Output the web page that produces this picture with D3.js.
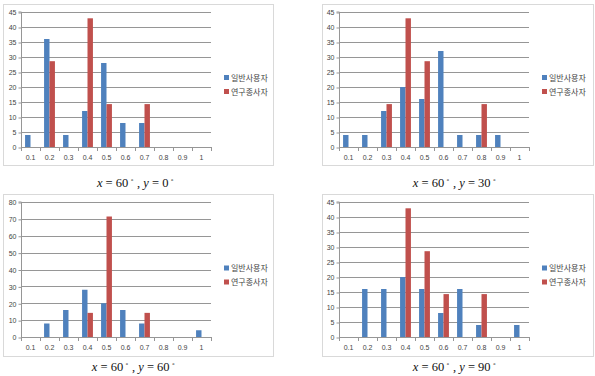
<!DOCTYPE html>
<html><head><meta charset="utf-8">
<script src="https://cdn.jsdelivr.net/npm/d3@7"></script>
<style>body{margin:0;background:#fff}svg{display:block}</style>
</head><body>
<svg id="c" width="595" height="376"></svg>
<script>
const categories = ["0.1","0.2","0.3","0.4","0.5","0.6","0.7","0.8","0.9","1"];
const seriesNames = ["일반사용자","연구종사자"];
const p1Blue = [4,36,4,12,28,8,8,0,0,0];
const p1Red  = [0,28.6,0,42.9,14.3,0,14.3,0,0,0];
const p2Blue = [4,4,12,20,16,32,4,4,4,0];
const p2Red  = [0,0,14.3,42.9,28.6,0,0,14.3,0,0];
const p3Blue = [0,8,16,28,20,16,8,0,0,4];
const p3Red  = [0,0,0,14.3,71.4,0,14.3,0,0,0];
const p4Blue = [0,16,16,20,16,8,16,4,0,4];
const p4Red  = [0,0,0,42.9,28.6,14.3,0,14.3,0,0];
const yMax = [45,45,80,45];
const yStep = [5,5,10,5];
const captionY = ["0","30","60","90"];
const captionX = "60";

const colors = ["#4F81BD","#C0504D"];
const svg = d3.select("#c");

const panels = [
  {blue:p1Blue, red:p1Red, frame:[3,4,273,165],  plot:[21,12,211,147], cap:[136,187]},
  {blue:p2Blue, red:p2Red, frame:[322,4,593,165],plot:[339,12,529,147], cap:[455,187]},
  {blue:p3Blue, red:p3Red, frame:[3,194,273,356],plot:[21,202,211,337], cap:[134,371]},
  {blue:p4Blue, red:p4Red, frame:[322,194,593,356],plot:[339,202,529,337], cap:[455,371]}
];

panels.forEach((p,i)=>{
  const g = svg.append("g");
  const [fx0,fy0,fx1,fy1] = p.frame;
  g.append("rect").attr("x",fx0+0.5).attr("y",fy0+0.5).attr("width",fx1-fx0).attr("height",fy1-fy0)
    .attr("fill","#fff").attr("stroke","#d9d9d9").attr("stroke-width",1);
  const [x0,y0,x1,y1] = p.plot;
  const x = d3.scaleBand().domain(categories).range([x0,x1]).paddingInner(0).paddingOuter(0);
  const y = d3.scaleLinear().domain([0,yMax[i]]).range([y1,y0]);
  const ticks = d3.range(0,yMax[i]+0.001,yStep[i]);
  g.selectAll(".grid").data(ticks.filter(t=>t>0)).join("line")
    .attr("x1",x0).attr("x2",x1).attr("y1",d=>Math.round(y(d))+0.5).attr("y2",d=>Math.round(y(d))+0.5)
    .attr("stroke","#969696").attr("stroke-width",1);
  const ya = d3.axisLeft(y).tickValues(ticks).tickSize(3).tickPadding(2).tickFormat(d3.format("d"));
  const yg = g.append("g").attr("transform",`translate(${x0+0.5},0.5)`).call(ya);
  yg.select(".domain").attr("stroke","#969696").attr("d",`M-3,${y(yMax[i])-0.5}H0V${y1-0.5}`);
  yg.selectAll(".tick line").attr("stroke","#969696");
  yg.selectAll("text").attr("font-family","Liberation Sans, Arial, sans-serif").attr("font-size","7px").attr("fill","#444");
  const bw = x.bandwidth();
  const barW = bw/3.5;
  const data = categories.map((c,k)=>({c, v:[p.blue[k],p.red[k]]}));
  colors.forEach((col,s)=>{
    g.selectAll(".bar"+s).data(data).join("rect")
      .attr("x",d=>x(d.c)+bw/2-barW+s*barW)
      .attr("width",barW)
      .attr("y",d=>y(d.v[s]))
      .attr("height",d=>y1-y(d.v[s]))
      .attr("fill",col);
  });
  g.append("line").attr("x1",x0).attr("x2",x1).attr("y1",y1+0.5).attr("y2",y1+0.5).attr("stroke","#969696");
  g.selectAll(".xt").data(categories.concat(["end"])).join("line")
    .attr("x1",(d,k)=>Math.round(x0+k*bw)+0.5).attr("x2",(d,k)=>Math.round(x0+k*bw)+0.5)
    .attr("y1",y1).attr("y2",y1+4).attr("stroke","#969696");
  g.selectAll(".xl").data(categories).join("text")
    .attr("x",d=>x(d)+bw/2).attr("y",y1+13).attr("text-anchor","middle")
    .attr("font-family","Liberation Sans, Arial, sans-serif").attr("font-size","7px").attr("fill","#444")
    .text(d=>d);
  const lx = x1+13, ly = (fy0+fy1)/2 - 7;
  seriesNames.forEach((n,s)=>{
    g.append("rect").attr("x",lx).attr("y",ly+s*14-2.5).attr("width",5).attr("height",5).attr("fill",colors[s]);
    g.append("text").attr("x",lx+7).attr("y",ly+s*14+3).attr("font-family","Noto Sans CJK KR, sans-serif")
      .attr("font-size","8px").attr("fill","#444").text(n);
  });
  const t = g.append("text").attr("x",0).attr("y",p.cap[1])
    .attr("font-family","Liberation Serif, Times New Roman, serif").attr("font-size","12.5px").attr("fill","#111");
  t.append("tspan").attr("font-style","italic").text("x");
  t.append("tspan").text(" = " + captionX);
  t.append("tspan").attr("font-family","DejaVu Sans").attr("font-size","6px").attr("dy","-5").text(" ∘");
  t.append("tspan").attr("dy","5").text(" , ");
  t.append("tspan").attr("font-style","italic").text("y");
  t.append("tspan").text(" = " + captionY[i]);
  t.append("tspan").attr("font-family","DejaVu Sans").attr("font-size","6px").attr("dy","-5").text(" ∘");
  const bb = t.node().getBBox();
  t.attr("x", p.cap[0] - bb.width/2);
});
</script>
</body></html>
